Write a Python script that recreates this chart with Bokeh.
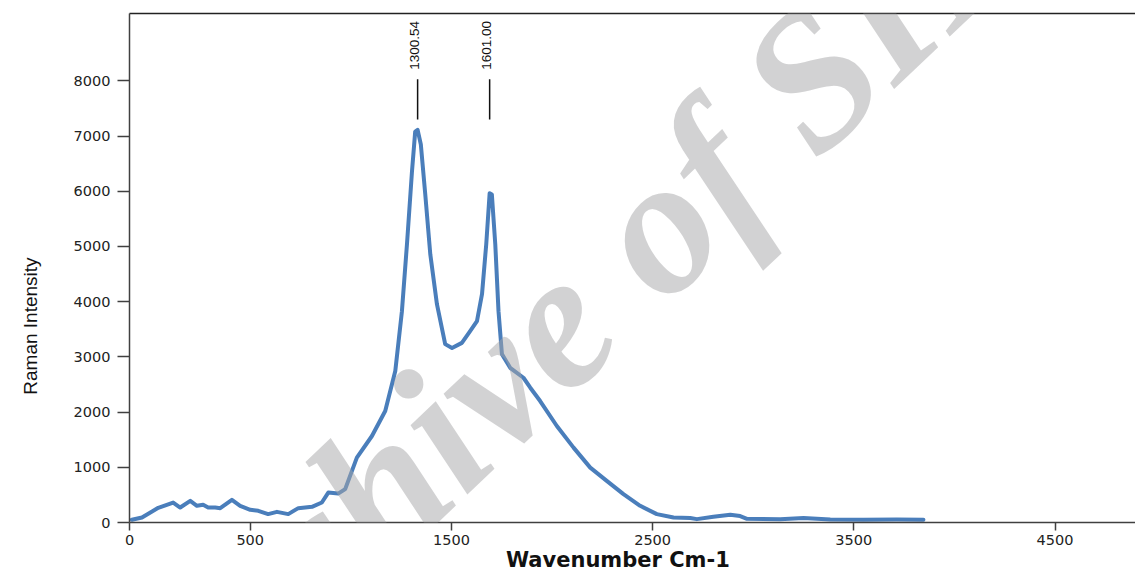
import math
from bokeh.plotting import figure
from bokeh.models import LinearAxis, FixedTicker, Range1d, Label, ColumnDataSource
from bokeh.core.properties import value
from bokeh.embed import file_html
from bokeh.resources import INLINE

# ---- data ----
wavenumber = [-88, -38, 43, 117, 152, 202, 235, 266, 291, 326, 351, 409, 450, 500, 540,
              589, 633, 689, 739, 807, 856, 888, 937, 972, 1030, 1105, 1171, 1221, 1254,
              1279, 1304, 1320, 1332, 1348, 1370, 1395, 1428, 1469, 1503, 1552, 1593, 1627,
              1652, 1673, 1690, 1701, 1718, 1734, 1751, 1792, 1858, 1892, 1941, 2024, 2107,
              2190, 2272, 2355, 2438, 2521, 2604, 2687, 2720, 2802, 2886, 2935, 2969, 3134,
              3250, 3383, 3548, 3714, 3846]
intensity = [49, 90, 266, 362, 271, 392, 302, 320, 271, 271, 260, 410, 302, 230, 212,
             152, 193, 152, 260, 284, 362, 542, 524, 604, 1175, 1567, 2020, 2743, 3828,
             5039, 6359, 7082, 7113, 6847, 5943, 4858, 3954, 3231, 3159, 3254, 3466, 3647,
             4135, 5039, 5966, 5943, 5039, 3828, 3050, 2802, 2622, 2441, 2200, 1748, 1356,
             994, 754, 513, 302, 152, 90, 80, 61, 103, 139, 116, 67, 61, 80, 54, 49, 54, 49]
assert len(wavenumber) == len(intensity)

peak_labels = ["1300.54", "1601.00"]

x_tick_values = [-100, 500, 1500, 2500, 3500, 4500]
x_tick_labels = ["0", "500", "1500", "2500", "3500", "4500"]
y_tick_values = [0, 1000, 2000, 3000, 4000, 5000, 6000, 7000, 8000]

# ---- figure ----
p = figure(width=1135, height=579, output_backend="svg", toolbar_location=None,
           x_range=Range1d(-100, 4900), y_range=Range1d(0, 9220),
           min_border_left=129, min_border_right=0, min_border_top=13, min_border_bottom=57)
p.outline_line_color = None
p.grid.visible = False
p.background_fill_color = "white"

axis_color = "#404040"
label_font = "DejaVu Sans"
narrow_font = "'Liberation Sans Narrow', 'Arial Narrow', 'Liberation Sans', sans-serif"

xa = p.xaxis[0]
xa.ticker = FixedTicker(ticks=x_tick_values)
xa.major_label_overrides = {v: t for v, t in zip(x_tick_values, x_tick_labels)}
xa.minor_tick_line_color = None
xa.major_tick_in = 0
xa.major_tick_out = 8
xa.major_tick_line_color = axis_color
xa.major_tick_line_width = 1.5
xa.axis_line_color = axis_color
xa.axis_line_width = 1.5
xa.major_label_text_font = label_font
xa.major_label_text_font_size = "14.5px"
xa.major_label_text_color = "#222222"
xa.major_label_standoff = 4
# trailing no-break spaces nudge the centred title slightly left, as in the reference
xa.axis_label = "Wavenumber Cm-1" + "\u00a0" * 4
xa.axis_label_text_font = label_font
xa.axis_label_text_font_style = "bold"
xa.axis_label_text_font_size = "21px"
xa.axis_label_text_color = "#111111"
xa.axis_label_standoff = 0

ya = p.yaxis[0]
ya.ticker = FixedTicker(ticks=y_tick_values)
ya.minor_tick_line_color = None
ya.major_tick_in = 0
ya.major_tick_out = 12
ya.major_tick_line_color = axis_color
ya.major_tick_line_width = 1.5
ya.axis_line_color = axis_color
ya.axis_line_width = 1.5
ya.major_label_text_font = label_font
ya.major_label_text_font_size = "14.5px"
ya.major_label_text_color = "#222222"
ya.major_label_text_baseline = "top"
ya.major_label_standoff = 7
# trailing no-break spaces push the rotated title down, as in the reference
ya.axis_label = "Raman Intensity" + "\u00a0" * 22
ya.axis_label_text_font = narrow_font
ya.axis_label_text_font_style = "normal"
ya.axis_label_text_font_size = "19px"
ya.axis_label_text_color = "#111111"
ya.axis_label_standoff = 30

top = LinearAxis(ticker=FixedTicker(ticks=[]), major_tick_out=0, major_tick_in=0,
                 minor_tick_out=0, minor_tick_in=0, major_label_text_font_size="0px",
                 axis_line_color="#222222", axis_line_width=1.5)
p.add_layout(top, "above")

# ---- spectrum ----
src = ColumnDataSource(dict(x=wavenumber, y=intensity))
p.line("x", "y", source=src, line_color="#4a7ebb", line_width=4, line_join="round", line_cap="round")

# ---- peak markers (located at local maxima of the series) ----
peak_x = []
for i in range(1, len(intensity) - 1):
    if intensity[i] > 5000 and intensity[i] >= intensity[i - 1] and intensity[i] > intensity[i + 1]:
        peak_x.append(wavenumber[i])
peak_x = peak_x[:len(peak_labels)]

p.segment(x0=peak_x, y0=[7300] * len(peak_x), x1=peak_x, y1=[8030] * len(peak_x),
          line_color="#111111", line_width=1.5)
p.text(x=peak_x, y=[8200] * len(peak_x), text=peak_labels, angle=math.pi / 2,
       text_align="left", text_baseline="middle", x_offset=-3,
       text_font=value(narrow_font), text_font_size="13.5px", text_color="#111111")

# ---- watermark ----
wm = Label(x=438, y=214, x_units="screen", y_units="screen", text="Archive of SID",
           angle=0.76, text_align="center", text_baseline="middle",
           text_font="Liberation Serif", text_font_style="bold italic",
           text_font_size="195px", text_color="#a6a6a8", text_alpha=0.5)
p.add_layout(wm)

open("out.html", "w").write(file_html(p, INLINE))
